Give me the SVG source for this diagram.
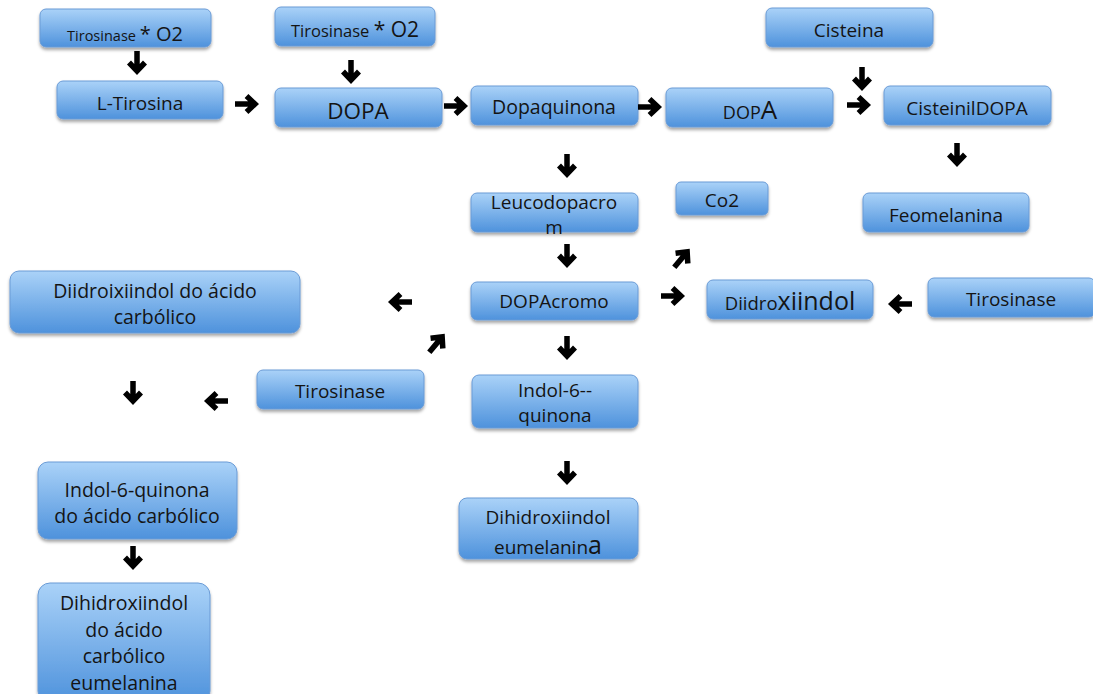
<svg xmlns="http://www.w3.org/2000/svg" xmlns:xlink="http://www.w3.org/1999/xlink" width="1093" height="694" viewBox="0 0 1093 694">
<style>
svg{font-size:19px}
.b{fill:url(#g);stroke:#6a9bd6;stroke-width:1;filter:url(#sh)}
text{font-family:"Open Sans","Liberation Sans",sans-serif;fill:#141414;text-anchor:middle}
.a{fill:none;stroke:#000;stroke-width:5.5;stroke-linejoin:miter;stroke-linecap:butt}
</style>
<defs>
<linearGradient id="g" x1="0" y1="0" x2="0" y2="1">
<stop offset="0" stop-color="#aad2f8"/>
<stop offset="1" stop-color="#4e92dc"/>
</linearGradient>
<filter id="sh" x="-10%" y="-20%" width="120%" height="150%">
<feDropShadow dx="0" dy="2.5" stdDeviation="1.5" flood-color="#000" flood-opacity="0.35"/>
</filter>
<path id="ar" class="a" d="M-12,0 H7 M-0.5,-8 L8,0 L-0.5,8"/>
</defs>
<rect width="1093" height="694" fill="#fff"/>

<g id="n1"><rect class="b" x="40" y="9" width="171" height="38" rx="6"/><text x="125" y="41"><tspan font-size="14.5">Tirosinase </tspan><tspan font-size="20">* O2</tspan></text></g>
<g id="n2"><rect class="b" x="57" y="81" width="166" height="38" rx="6"/><text x="140" y="110">L-Tirosina</text></g>
<g id="n3"><rect class="b" x="275" y="7" width="160" height="39" rx="6"/><text x="355" y="37"><tspan font-size="16.5">Tirosinase </tspan><tspan font-size="21">* O2</tspan></text></g>
<g id="n4"><rect class="b" x="275" y="88" width="167" height="39" rx="6"/><text x="358" y="119" font-size="22.5">DOPA</text></g>
<g id="n5"><rect class="b" x="471" y="86" width="167" height="39" rx="6"/><text x="554" y="114" font-size="19.5">Dopaquinona</text></g>
<g id="n6"><rect class="b" x="666" y="88" width="167" height="39" rx="6"/><text x="750" y="119"><tspan font-size="18">DOP</tspan><tspan font-size="26">A</tspan></text></g>
<g id="n7"><rect class="b" x="766" y="8" width="167" height="39" rx="6"/><text x="849" y="37">Cisteina</text></g>
<g id="n8"><rect class="b" x="884" y="86" width="167" height="39" rx="6"/><text x="967" y="115">CisteinilDOPA</text></g>
<g id="n9"><rect class="b" x="676" y="182" width="92" height="33" rx="5"/><text x="722" y="207">Co2</text></g>
<g id="n10"><rect class="b" x="863" y="193" width="166" height="39" rx="6"/><text x="946" y="222">Feomelanina</text></g>
<g id="n11"><rect class="b" x="471" y="193" width="167" height="39" rx="6"/><text x="554" y="209">Leucodopacro</text><text x="554" y="234">m</text></g>
<g id="n12"><rect class="b" x="471" y="282" width="167" height="38" rx="6"/><text x="554" y="308">DOPAcromo</text></g>
<g id="n13"><rect class="b" x="707" y="280" width="166" height="39" rx="6"/><text x="790" y="310"><tspan font-size="18.5">Diidro</tspan><tspan font-size="25">xiindol</tspan></text></g>
<g id="n14"><rect class="b" x="928" y="278" width="167" height="39" rx="6"/><text x="1011" y="306">Tirosinase</text></g>
<g id="n15"><rect class="b" x="10" y="271" width="290" height="62" rx="9"/><text x="155" y="298" font-size="19.5">Diidroixiindol do ácido</text><text x="155" y="324" font-size="19.5">carbólico</text></g>
<g id="n16"><rect class="b" x="257" y="370" width="167" height="39" rx="6"/><text x="340" y="398">Tirosinase</text></g>
<g id="n17"><rect class="b" x="472" y="375" width="166" height="53" rx="7"/><text x="555" y="397">Indol-6--</text><text x="555" y="422">quinona</text></g>
<g id="n18"><rect class="b" x="459" y="498" width="179" height="61" rx="8"/><text x="548" y="524">Dihidroxiindol</text><text x="548" y="554"><tspan font-size="19">eumelanin</tspan><tspan font-size="25">a</tspan></text></g>
<g id="n19"><rect class="b" x="38" y="462" width="199" height="77" rx="10"/><text x="137" y="497" font-size="19.5">Indol-6-quinona</text><text x="137" y="523" font-size="19.5">do ácido carbólico</text></g>
<g id="n20"><rect class="b" x="38" y="583" width="172" height="120" rx="12"/><text x="124" y="610" font-size="19.5">Dihidroxiindol</text><text x="124" y="637" font-size="19.5">do ácido</text><text x="124" y="663" font-size="19.5">carbólico</text><text x="124" y="690" font-size="19.5">eumelanina</text></g>

<g id="connectors">
<use xlink:href="#ar" transform="translate(137,63) rotate(90)"/>
<use xlink:href="#ar" transform="translate(351,72) rotate(90)"/>
<use xlink:href="#ar" transform="translate(247,104)"/>
<use xlink:href="#ar" transform="translate(456,106)"/>
<use xlink:href="#ar" transform="translate(650,107)"/>
<use xlink:href="#ar" transform="translate(567,166) rotate(90)"/>
<use xlink:href="#ar" transform="translate(862,79) rotate(90)"/>
<use xlink:href="#ar" transform="translate(859,105)"/>
<use xlink:href="#ar" transform="translate(957,155) rotate(90)"/>
<use xlink:href="#ar" transform="translate(567,256) rotate(90)"/>
<use xlink:href="#ar" transform="translate(682,258) rotate(-50)"/>
<use xlink:href="#ar" transform="translate(673,296)"/>
<use xlink:href="#ar" transform="translate(900,304) rotate(180)"/>
<use xlink:href="#ar" transform="translate(400,302) rotate(180)"/>
<use xlink:href="#ar" transform="translate(437,343) rotate(-50)"/>
<use xlink:href="#ar" transform="translate(567,348) rotate(90)"/>
<use xlink:href="#ar" transform="translate(216,401) rotate(180)"/>
<use xlink:href="#ar" transform="translate(133,393) rotate(90)"/>
<use xlink:href="#ar" transform="translate(567,473) rotate(90)"/>
<use xlink:href="#ar" transform="translate(133,558) rotate(90)"/>
</g>
</svg>
